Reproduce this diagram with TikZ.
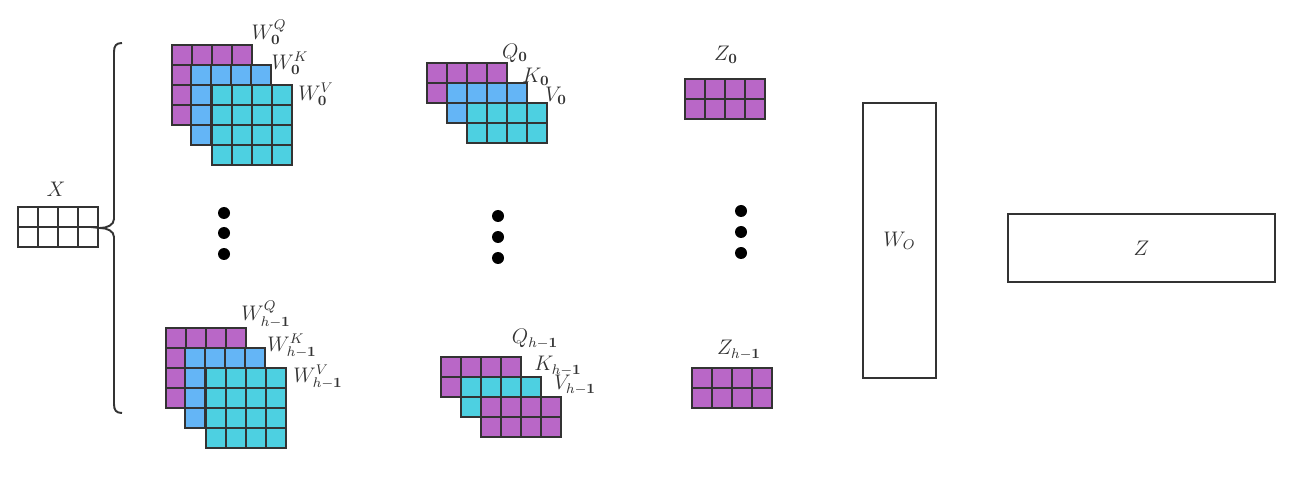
\documentclass[tikz,border=0pt]{standalone}
\usepackage{amsmath}
\usepackage{tikz}
\usetikzlibrary{positioning}
\definecolor{mpurple}{HTML}{B967C7}
\definecolor{mblue}{HTML}{64B5F6}
\definecolor{mcyan}{HTML}{4DD0E1}
\definecolor{mline}{HTML}{333333}
% a grid of cells: x, y, cols, rows, colour
\newcommand{\mgrid}[5]{%
  \foreach \i in {1,...,#3}{\foreach \j in {1,...,#4}{
    \draw[cell,fill=#5] ({#1+(\i-1)*20},{#2+(\j-1)*20}) rectangle ++(20,20);}}}

\begin{document}
\begin{tikzpicture}[x=0.02cm,y=-0.02cm,
		cell/.style={draw=mline,line width=1.1pt},
		lbl/.style={text=mline,inner sep=0pt,font=\large},
		dot/.style={circle,fill=black,inner sep=0pt,minimum size=0.24cm},
		box/.style={rectangle,draw=mline,line width=1.1pt,text=mline,font=\large}]
		\useasboundingbox (0,0) rectangle (1300,479);
		
		% input
		\mgrid{18}{207}{4}{2}{white}
		\node[lbl] (lx) at (56,189) {$X$};
		\coordinate (brt) at (122,43);
		\coordinate (brm) at (100,228);
		\coordinate (brb) at (122,413);
		\draw[mline,line width=1.1pt] (brt) .. controls (116,43) and (114,46) .. (114,52)
			-- (114,219) .. controls (114,225) and (107,228) .. (brm)
			.. controls (107,228) and (114,231) .. (114,237)
			-- (114,404) .. controls (114,410) and (116,413) .. (brb);
		
		% head 0 weights
		\mgrid{172}{45}{4}{4}{mpurple}
		\mgrid{191}{65}{4}{4}{mblue}
		\mgrid{212}{85}{4}{4}{mcyan}
		\node[lbl] (lwq0) at (269,32) {$W_{\mathbf{0}}^{Q}$};
		\node[lbl] (lwk0) at (290,63) {$W_{\mathbf{0}}^{K}$};
		\node[lbl] (lwv0) at (316,94) {$W_{\mathbf{0}}^{V}$};
		
		% head h-1 weights
		\mgrid{166}{328}{4}{4}{mpurple}
		\mgrid{185}{348}{4}{4}{mblue}
		\mgrid{206}{368}{4}{4}{mcyan}
		\node[lbl] (lwq1) at (266,314) {$W_{h-\mathbf{1}}^{Q}$};
		\node[lbl] (lwk1) at (292,346) {$W_{h-\mathbf{1}}^{K}$};
		\node[lbl] (lwv1) at (318,377) {$W_{h-\mathbf{1}}^{V}$};
		
		% head 0 Q K V
		\mgrid{427}{63}{4}{2}{mpurple}
		\mgrid{447}{83}{4}{2}{mblue}
		\mgrid{467}{103}{4}{2}{mcyan}
		\node[lbl] (lq0) at (515,53) {$Q_{\mathbf{0}}$};
		\node[lbl] (lk0) at (536,77) {$K_{\mathbf{0}}$};
		\node[lbl] (lv0) at (556,96) {$V_{\mathbf{0}}$};
		
		% head h-1 Q K V
		\mgrid{441}{357}{4}{2}{mpurple}
		\mgrid{461}{377}{4}{2}{mcyan}
		\mgrid{481}{397}{4}{2}{mpurple}
		\node[lbl] (lq1) at (535,339) {$Q_{h-\mathbf{1}}$};
		\node[lbl] (lk1) at (558,366) {$K_{h-\mathbf{1}}$};
		\node[lbl] (lv1) at (575,385) {$V_{h-\mathbf{1}}$};
		
		% head outputs
		\mgrid{685}{79}{4}{2}{mpurple}
		\node[lbl] (lz0) at (726,55) {$Z_{\mathbf{0}}$};
		\mgrid{692}{368}{4}{2}{mpurple}
		\node[lbl] (lz1) at (739,350) {$Z_{h-\mathbf{1}}$};
		
		% dots
		\foreach \y [count=\n] in {213,233,254}{
			\node[dot] (da\n) at (224,\y) {};}
		\foreach \y [count=\n] in {216,237,258}{
			\node[dot] (db\n) at (498,\y) {};}
		\foreach \y [count=\n] in {211,232,253}{
			\node[dot] (dc\n) at (741,\y) {};}
		
		% output projection
		\node[box,minimum width=73*0.02cm,minimum height=275*0.02cm] (wo) at (899.5,240.5) {$W_O$};
		\node[box,minimum width=267*0.02cm,minimum height=68*0.02cm] (z) at (1141.5,248) {$Z$};
\end{tikzpicture}
\end{document}
